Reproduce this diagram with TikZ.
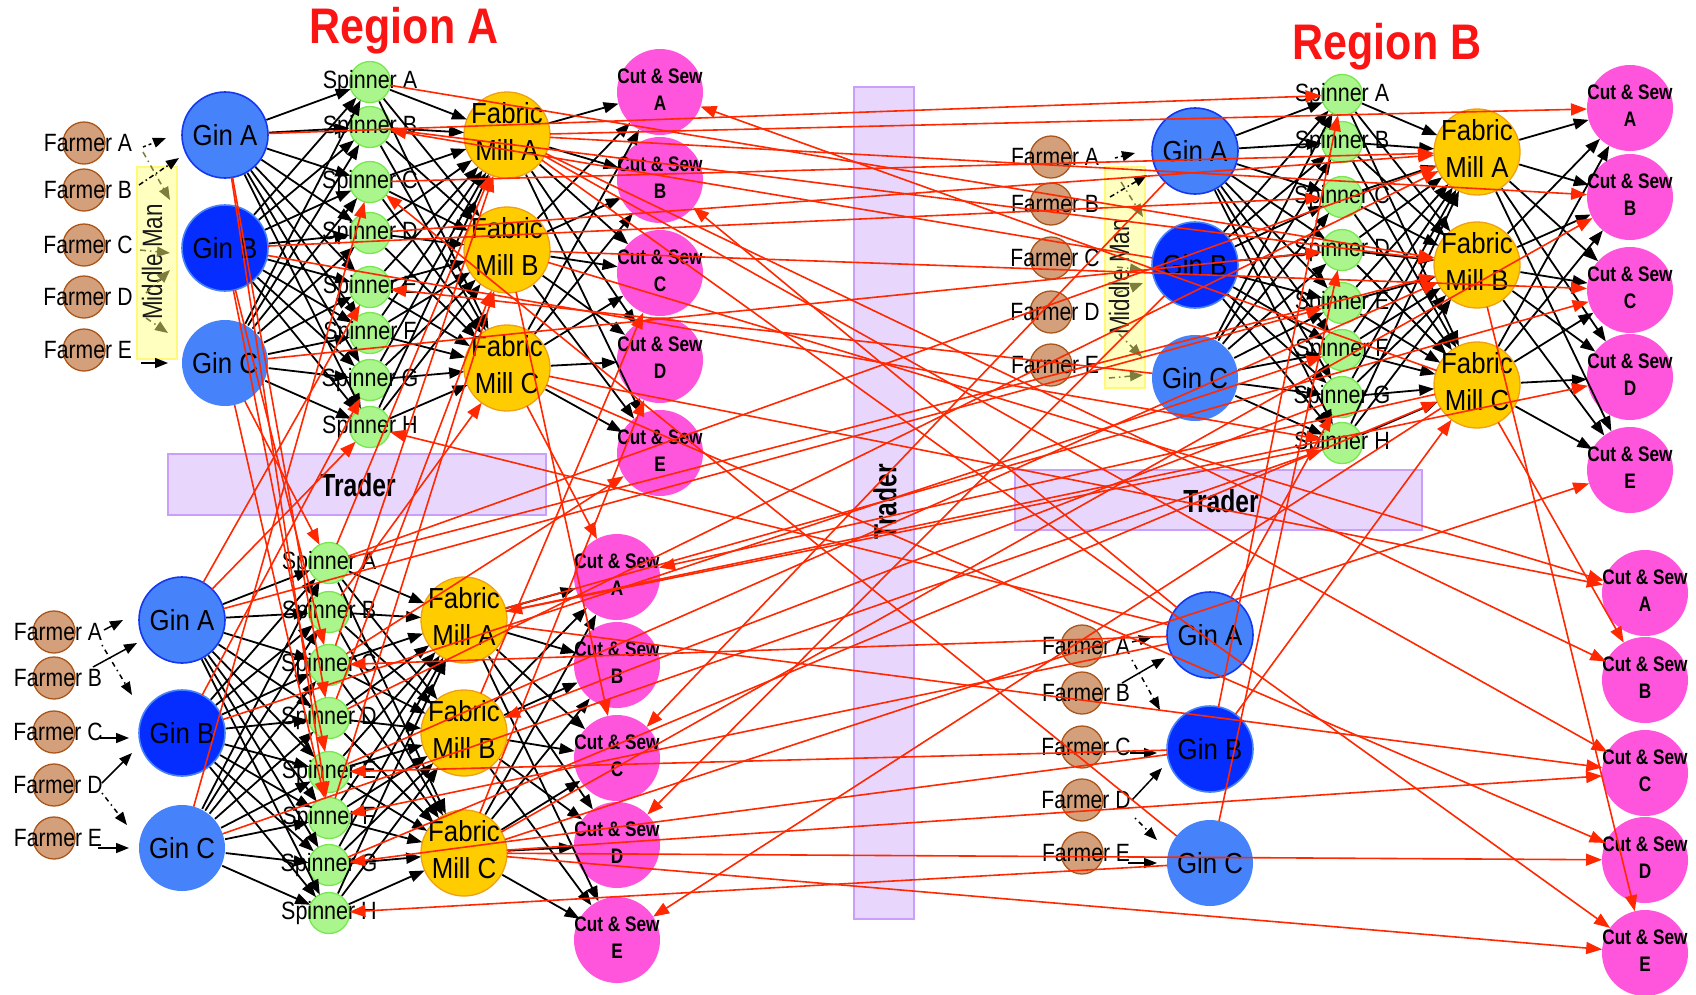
\documentclass[tikz,border=0pt]{standalone}
\usepackage{fontspec}
\setmainfont{Liberation Sans}
\usepackage{graphicx}
\usetikzlibrary{arrows.meta,calc}
\newcommand{\hsq}[2]{\scalebox{#1}[1]{#2}}
\definecolor{farmfill}{RGB}{212,160,124}
\definecolor{farmdraw}{RGB}{170,85,25}
\definecolor{spinfill}{RGB}{170,246,140}
\definecolor{spindraw}{RGB}{120,232,80}
\definecolor{millfill}{RGB}{255,204,0}
\definecolor{milldraw}{RGB}{240,160,20}
\definecolor{csfill}{RGB}{255,85,220}
\definecolor{ginlt}{RGB}{70,130,250}
\definecolor{gindk}{RGB}{5,45,255}
\definecolor{ginedge}{RGB}{20,55,240}
\definecolor{tradfill}{RGB}{233,214,252}
\definecolor{traddraw}{RGB}{200,160,250}
\definecolor{mmfill}{RGB}{255,255,192}
\definecolor{mmdraw}{RGB}{255,248,120}
\definecolor{mmarrow}{RGB}{125,125,60}
\definecolor{flow}{RGB}{255,40,0}
\definecolor{ttl}{RGB}{250,20,20}
\tikzset{
  rnd/.style={circle,inner sep=0pt,outer sep=0pt},
  farmer/.style={rnd,minimum size=42pt,fill=farmfill,draw=farmdraw,line width=1.3pt},
  spinner/.style={rnd,minimum size=41pt,fill=spinfill,draw=spindraw,line width=1.3pt},
  mill/.style={rnd,minimum size=86pt,fill=millfill,draw=milldraw,line width=1.3pt},
  cs/.style={rnd,minimum size=86pt,fill=csfill},
  ginlight/.style={rnd,minimum size=86pt,fill=ginlt,draw=ginedge,line width=1.6pt},
  gindark/.style={rnd,minimum size=86pt,fill=gindk,draw=ginlt,line width=1.6pt},
  ginplain/.style={rnd,minimum size=86pt,fill=ginlt},
  flab/.style={inner sep=0pt,font=\fontsize{25}{30}\selectfont,xshift=4pt},
  slab/.style={inner sep=0pt,font=\fontsize{25}{30}\selectfont},
  glab/.style={inner sep=0pt,font=\fontsize{29}{34}\selectfont},
  mlab/.style={inner sep=0pt,font=\fontsize{29}{37}\selectfont},
  clab/.style={inner sep=0pt,font=\bfseries\fontsize{21}{27}\selectfont},
  trbox/.style={rectangle,inner sep=0pt,fill=tradfill,draw=traddraw,line width=1.5pt},
  trlab/.style={inner sep=0pt,font=\bfseries\fontsize{32}{36}\selectfont},
  mmbox/.style={rectangle,inner sep=0pt,fill=mmfill,draw=mmdraw,line width=1.5pt},
  mmlab/.style={inner sep=0pt,font=\fontsize{28}{30}\selectfont,text=black!90},
  ttlstyle/.style={inner sep=0pt,font=\bfseries\fontsize{50}{56}\selectfont,text=ttl},
  blk/.style={draw=black,line width=1.8pt,-{Triangle[length=15pt,width=11pt]},shorten <=1pt},
  flw/.style={draw=flow,line width=1.6pt,-{Triangle[length=16pt,width=12pt]}},
  farr/.style={draw=black,line width=1.5pt,-{Triangle[length=13pt,width=10pt]}},
  fdot/.style={farr,dash pattern=on 1.5pt off 4pt on 5pt off 4pt},
  mmarr/.style={draw=mmarrow,line width=1.5pt,dash pattern=on 6pt off 4pt on 1.5pt off 4pt,-{Triangle[length=13pt,width=10pt]}},
}
\begin{document}
\begin{tikzpicture}[x=1pt,y=-1pt]
\useasboundingbox (0,0) rectangle (1696,994);
\fill[white] (0,0) rectangle (1696,994);

% ---------- background boxes ----------
\node[trbox,minimum width=378pt,minimum height=61pt] (trA) at (357,484.5) {};
\node[trlab] (trAl) at (358,485) {\hsq{0.77}{Trader}};
\node[trbox,minimum width=60pt,minimum height=832pt] (trM) at (884,503) {};
\node[trlab,rotate=90] (trMl) at (885,502) {\hsq{0.77}{Trader}};
\node[trbox,minimum width=407pt,minimum height=60pt] (trB) at (1218.5,500) {};
\node[trlab] (trBl) at (1221,501) {\hsq{0.77}{Trader}};
\node[mmbox,minimum width=40pt,minimum height=192pt] (mmA) at (157,263) {};
\node[mmlab,rotate=90] (mmAl) at (152,262) {\hsq{0.8}{Middle Man}};
\node[mmbox,minimum width=40pt,minimum height=221pt] (mmB) at (1125,277.5) {};
\node[mmlab,rotate=90] (mmBl) at (1119,277) {\hsq{0.8}{Middle Man}};

\node[ttlstyle] (titA) at (404,31) {\hsq{0.86}{Region A}};
\node[ttlstyle] (titB) at (1387,47) {\hsq{0.86}{Region B}};

% ---------- Region A top ----------
\foreach \l/\y in {A/143,B/190,C/245,D/297,E/350}
  \node[farmer,label={[flab]center:\hsq{0.845}{Farmer \l}}] (TAf\l) at (84,\y) {};
\node[ginlight,label={[glab]center:\hsq{0.89}{Gin A}}] (TAgA) at (225,135) {};
\node[gindark,label={[glab]center:\hsq{0.89}{Gin B}}] (TAgB) at (225,248) {};
\node[ginplain,label={[glab]center:\hsq{0.89}{Gin C}}] (TAgC) at (225,363) {};
\foreach \l/\y in {A/82,B/127,C/182,D/233,E/287,F/333,G/380,H/427}
  \node[spinner,label={[slab]center:\hsq{0.86}{Spinner \l}}] (TAs\l) at (370,\y) {};
\foreach \l/\y in {A/135,B/250,C/368}
  \node[mill,label={[mlab]center:\hsq{0.89}{\begin{tabular}{@{}c@{}}Fabric\\Mill \l\end{tabular}}}] (TAm\l) at (507,\y) {};
\foreach \l/\y in {A/92,B/180,C/273,D/360,E/453}
  \node[cs,label={[clab]center:\hsq{0.82}{\begin{tabular}{@{}c@{}}Cut \& Sew\\\l\end{tabular}}}] (TAc\l) at (660,\y) {};

% ---------- Region A bottom ----------
\foreach \l/\y in {A/632,B/678,C/732,D/785,E/838}
  \node[farmer,label={[flab]center:\hsq{0.845}{Farmer \l}}] (BAf\l) at (54,\y) {};
\node[ginlight,label={[glab]center:\hsq{0.89}{Gin A}}] (BAgA) at (182,620) {};
\node[gindark,label={[glab]center:\hsq{0.89}{Gin B}}] (BAgB) at (182,733) {};
\node[ginplain,label={[glab]center:\hsq{0.89}{Gin C}}] (BAgC) at (182,848) {};
\foreach \l/\y in {A/563,B/612,C/665,D/718,E/772,F/818,G/865,H/913}
  \node[spinner,label={[slab]center:\hsq{0.86}{Spinner \l}}] (BAs\l) at (329,\y) {};
\foreach \l/\y in {A/620,B/733,C/853}
  \node[mill,label={[mlab]center:\hsq{0.89}{\begin{tabular}{@{}c@{}}Fabric\\Mill \l\end{tabular}}}] (BAm\l) at (464,\y) {};
\foreach \l/\y in {A/577,B/665,C/758,D/845,E/940}
  \node[cs,label={[clab]center:\hsq{0.82}{\begin{tabular}{@{}c@{}}Cut \& Sew\\\l\end{tabular}}}] (BAc\l) at (617,\y) {};

% ---------- Region B top ----------
\foreach \l/\y in {A/157,B/204,C/258,D/312,E/365}
  \node[farmer,label={[flab]center:\hsq{0.845}{Farmer \l}}] (TBf\l) at (1051,\y) {};
\node[ginlight,label={[glab]center:\hsq{0.89}{Gin A}}] (TBgA) at (1195,151) {};
\node[gindark,label={[glab]center:\hsq{0.89}{Gin B}}] (TBgB) at (1195,265) {};
\node[ginplain,label={[glab]center:\hsq{0.89}{Gin C}}] (TBgC) at (1195,378) {};
\foreach \l/\y in {A/95,B/142,C/197,D/250,E/303,F/350,G/397,H/443}
  \node[spinner,label={[slab]center:\hsq{0.86}{Spinner \l}}] (TBs\l) at (1342,\y) {};
\foreach \l/\y in {A/152,B/265,C/385}
  \node[mill,label={[mlab]center:\hsq{0.89}{\begin{tabular}{@{}c@{}}Fabric\\Mill \l\end{tabular}}}] (TBm\l) at (1477,\y) {};
\foreach \l/\y in {A/108,B/197,C/290,D/377,E/470}
  \node[cs,label={[clab]center:\hsq{0.82}{\begin{tabular}{@{}c@{}}Cut \& Sew\\\l\end{tabular}}}] (TBc\l) at (1630,\y) {};

% ---------- Region B bottom ----------
\foreach \l/\y in {A/646,B/693,C/747,D/800,E/853}
  \node[farmer,label={[flab]center:\hsq{0.845}{Farmer \l}}] (BBf\l) at (1082,\y) {};
\node[ginlight,label={[glab]center:\hsq{0.89}{Gin A}}] (BBgA) at (1210,635) {};
\node[gindark,label={[glab]center:\hsq{0.89}{Gin B}}] (BBgB) at (1210,749) {};
\node[ginplain,label={[glab]center:\hsq{0.89}{Gin C}}] (BBgC) at (1210,863) {};
\foreach \l/\y in {A/593,B/680,C/773,D/860,E/953}
  \node[cs,label={[clab]center:\hsq{0.82}{\begin{tabular}{@{}c@{}}Cut \& Sew\\\l\end{tabular}}}] (BBc\l) at (1645,\y) {};

% ---------- black supply chain arrows ----------
\foreach \p in {TA,BA,TB}{
  \foreach \g in {A,B,C}{\foreach \s in {A,...,H}{\draw[blk] (\p g\g) -- (\p s\s);}}
  \foreach \s in {A,...,H}{\foreach \m in {A,B,C}{\draw[blk] (\p s\s) -- (\p m\m);}}
  \foreach \m in {A,B,C}{\foreach \c in {A,...,E}{\draw[blk] (\p m\m) -- (\p c\c);}}
}

% ---------- farmer arrows ----------
\draw[farr,dashed] ($(TAfA)+(59,4)$) -- ($(TAgA)+(-59,3)$);
\draw[mmarr] ($(TAfA)+(59,9)$) -- ($(TAgB)+(-55,-48)$);
\draw[farr,dash pattern=on 5pt off 3pt on 1.5pt off 3pt] ($(TAfB)+(55,-5)$) -- ($(TAgA)+(-46,23)$);
\draw[mmarr] ($(TAfC)+(56,5)$) -- ($(TAgB)+(-55,5)$);
\draw[mmarr] ($(TAfD)+(62,-4)$) -- ($(TAgB)+(-55,22)$);
\draw[mmarr] ($(TAfD)+(62,21)$) -- ($(TAgC)+(-57,-30)$);
\draw[farr] ($(TAfE)+(57,13)$) -- ($(TAgC)+(-57,0)$);

\draw[farr,dashed] ($(TBfA)+(64,1)$) -- ($(TBgA)+(-60,2)$);
\draw[mmarr] ($(TBfA)+(70,25)$) -- ($(TBgB)+(-52,-48)$);
\draw[farr,dash pattern=on 5pt off 3pt on 1.5pt off 3pt] ($(TBfB)+(59,-7)$) -- ($(TBgA)+(-48,24)$);
\draw[mmarr] ($(TBfC)+(66,9)$) -- ($(TBgB)+(-52,5)$);
\draw[mmarr] ($(TBfD)+(66,-19)$) -- ($(TBgB)+(-52,18)$);
\draw[mmarr] ($(TBfD)+(68,22)$) -- ($(TBgC)+(-53,-21)$);
\draw[mmarr] ($(TBfE)+(58,13)$) -- ($(TBgC)+(-52,-3)$);

\draw[farr] ($(BAfA)+(50,-2)$) -- ($(BAgA)+(-59,0)$);
\draw[farr] ($(BAfB)+(39,-11)$) -- ($(BAgA)+(-45,23)$);
\draw[fdot] ($(BAfA)+(48,13)$) -- ($(BAgB)+(-50,-38)$);
\draw[farr] ($(BAfC)+(46,6)$) -- ($(BAgB)+(-53,5)$);
\draw[farr] ($(BAfD)+(48,-2)$) -- ($(BAgB)+(-50,20)$);
\draw[fdot] ($(BAfD)+(48,8)$) -- ($(BAgC)+(-55,-23)$);
\draw[farr] ($(BAfE)+(44,10)$) -- ($(BAgC)+(-53,0)$);

\draw[farr] ($(BBfA)+(50,-4)$) -- ($(BBgA)+(-58,2)$);
\draw[farr] ($(BBfB)+(40,-10)$) -- ($(BBgA)+(-45,23)$);
\draw[fdot] ($(BBfA)+(50,14)$) -- ($(BBgB)+(-50,-39)$);
\draw[farr] ($(BBfC)+(48,6)$) -- ($(BBgB)+(-53,4)$);
\draw[farr] ($(BBfD)+(50,0)$) -- ($(BBgB)+(-48,19)$);
\draw[fdot] ($(BBfD)+(53,18)$) -- ($(BBgC)+(-53,-23)$);
\draw[farr] ($(BBfE)+(46,10)$) -- ($(BBgC)+(-53,0)$);

% ---------- red trade arrows ----------
\foreach \a/\b in {
  TBmC/TAcA, BBgA/TAcB, TAgA/TBsA, TAsC/TBmA, TAgB/TBsC, TAgB/TBsH, TAgC/TBsD,
  TAmA/BBcB, TAmA/BBcC, TAmA/BBcE, TAmA/TBcA, TAmA/TBcB,
  TAmB/BBcA, TAmB/TBcC, TAmB/BAcC, TAmC/BBcA, TAmC/BBcD, TAmC/BAcA,
  TBmC/BBcB, TBmB/BBcE, TBmC/BAcA, TBmC/BAcE,
  BAmA/BBcC, BAmA/TBcD, BAmA/TBcC, BAmC/BBcC, BAmC/BBcD, BAmC/BBcE,
  BAmC/TBcE, BAmC/TBcB, BAmB/TAcC, BAmC/TAcD, BAsC/TAcE,
  TAsA/TBmB, TAsB/TBmB, TAsD/TBmA,
  BAsA/TAmA, BAsC/TAmA, BAsD/TAmB, BAsF/TAmB, BAsB/TAmC,
  BAsA/TBmA, BAsD/TBmA, BAsE/TBmB, BAsG/TBmC, BAsA/TBmB,
  TBsG/BAmB, TBsH/BAmA,
  TAgA/BAsD, TAgA/BAsF, TAgB/BAsC, TAgB/BAsE, TAgC/BAsA, TAgC/BAsF,
  BAgA/TAsH, BAgA/TAsE, BAgB/TAsG, BAgC/TAsC,
  BAgA/TBsE, BAgB/TBsF, BAgC/TBsH,
  BBgA/BAsC, BBgA/BAsF, BBgB/BAsE, BBgB/BAsG, BBgC/BAsH, BBgC/TAsC, BBgA/TAsH,
  BBgB/TBsA, BBgC/TBsD, BBgA/TBsG,
  TBgA/BAcC, TBgB/BAcD, TBgB/TAsB, TBgC/TAsE, BBgB/TBmC}
  {\draw[flw] (\a) -- (\b);}
\end{tikzpicture}
\end{document}
